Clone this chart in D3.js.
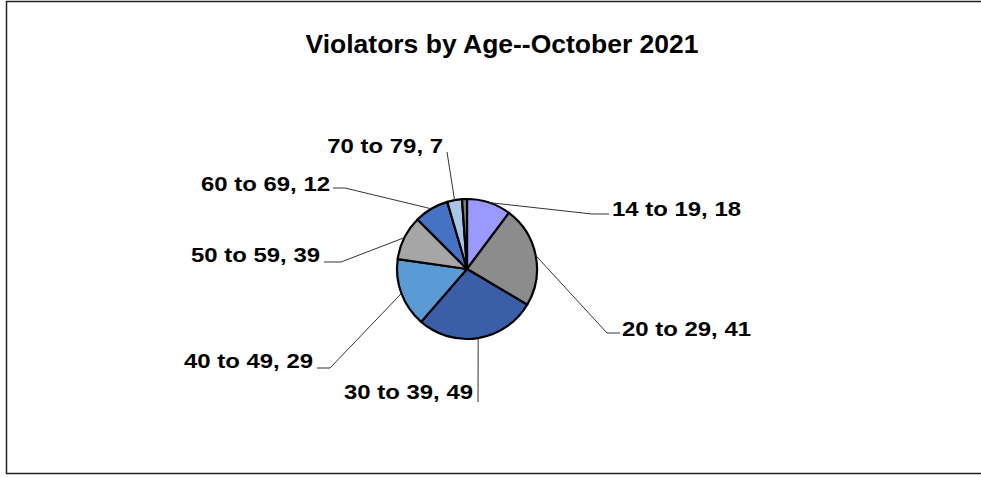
<!DOCTYPE html>
<html>
<head>
<meta charset="utf-8">
<script src="https://cdn.jsdelivr.net/npm/d3@7"></script>
<style>
  body { margin: 0; background: #fff; }
  text { font-family: "Liberation Sans", Arial, sans-serif; font-weight: bold; fill: #000; }
</style>
</head>
<body>
<div id="chart"></div>
<script>
// data (slice sizes, label text as printed)
var categories = ["14 to 19", "20 to 29", "30 to 39", "40 to 49", "50 to 59", "60 to 69", "70 to 79", "other"]
var values = [18, 41, 49, 28, 18, 14, 6, 2]
var labelValues = [18, 41, 49, 29, 39, 12, 7, null]
var colors = ["#9999ff", "#8c8c8c", "#3a5fa8", "#5b9bd5", "#a6a6a6", "#4472c4", "#a9c5e8", "#808080"]

// layout
var width = 981, height = 477
var cx = 467, cy = 269, radius = 70

// label placement: text anchor point and leader elbow
var labelLayout = [
  {tx: 612, ty: 216, anchor: "start", ex: 592, ey: 214, hx: 609},
  {tx: 622, ty: 336, anchor: "start", ex: 607, ey: 333, hx: 620},
  {tx: 473, ty: 399, anchor: "end",   ex: 478, ey: 402, hx: null},
  {tx: 313, ty: 368, anchor: "end",   ex: 330, ey: 368, hx: 317},
  {tx: 320, ty: 262, anchor: "end",   ex: 341, ey: 262, hx: 324},
  {tx: 330, ty: 191, anchor: "end",   ex: 345, ey: 188, hx: 333},
  {tx: 443, ty: 153, anchor: "end",   ex: 447, ey: 152, hx: null}
]

var svg = d3.select("#chart")
  .append("svg")
    .attr("width", width)
    .attr("height", height)

// frame
svg.append("rect")
  .attr("x", 6.5).attr("y", 1.5)
  .attr("width", 990).attr("height", 472)
  .attr("fill", "none")
  .attr("stroke", "#222")
  .attr("stroke-width", 1.5)

// the original's glyphs are a bit wider than Liberation's, hence the x stretch
svg.append("text")
  .attr("transform", "translate(502,53) scale(1.06,1)")
  .attr("text-anchor", "middle")
  .style("font-size", "25px")
  .text("Violators by Age--October 2021")

var pie = d3.pie().sort(null).value(function(d) { return d })
var arcs = pie(values)

var arc = d3.arc().innerRadius(0).outerRadius(radius)
var outer = d3.arc().innerRadius(radius).outerRadius(radius)

var g = svg.append("g").attr("transform", "translate(" + cx + "," + cy + ")")

// leader lines first so the slices sit on top
arcs.forEach(function(a, i) {
  var L = labelLayout[i]
  if (!L) return
  var p = outer.centroid(a)
  var pts = [[cx + p[0], cy + p[1]], [L.ex, L.ey]]
  if (L.hx != null) pts.push([L.hx, L.ey])
  svg.append("path")
    .attr("d", d3.line()(pts))
    .attr("fill", "none")
    .attr("stroke", "#333")
    .attr("stroke-width", 1)
  svg.append("text")
    .attr("transform", "translate(" + L.tx + "," + L.ty + ") scale(1.14,1)")
    .attr("text-anchor", L.anchor)
    .style("font-size", "21px")
    .text(categories[i] + ", " + labelValues[i])
})

g.selectAll("path.slice")
  .data(arcs)
  .enter().append("path")
    .attr("class", "slice")
    .attr("d", arc)
    .attr("fill", function(d, i) { return colors[i] })
    .attr("stroke", "#000")
    .attr("stroke-width", 2.2)
    .attr("stroke-linejoin", "round")
</script>
</body>
</html>
